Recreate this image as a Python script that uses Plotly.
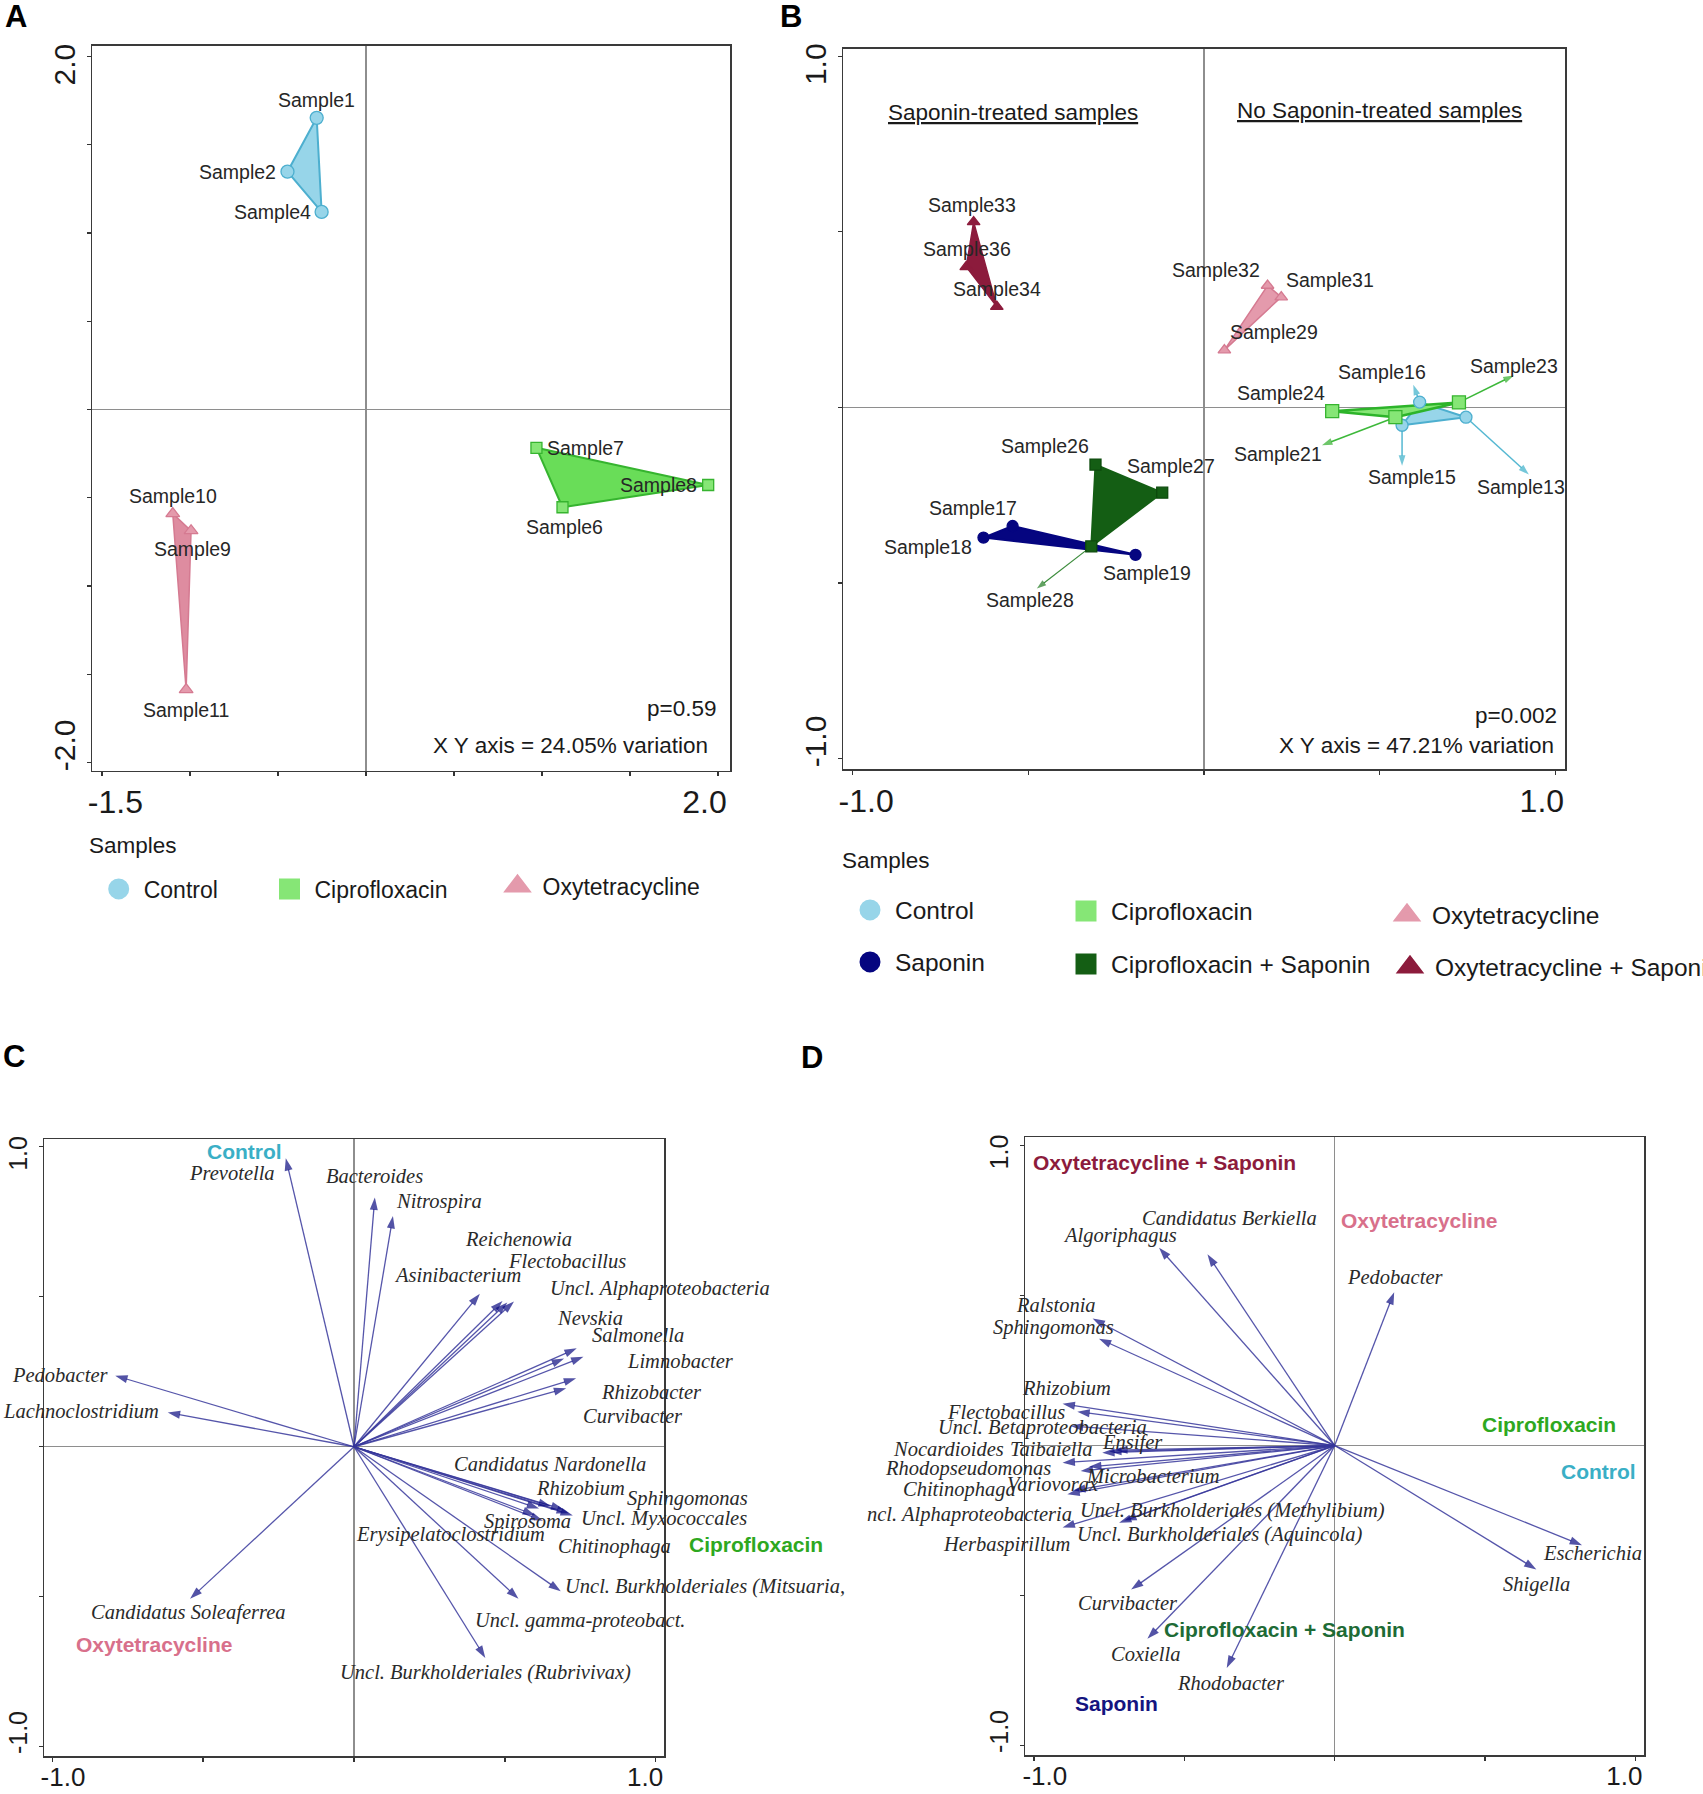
import plotly.graph_objects as go

W, H = 1703, 1794
SANS = "Arial, 'Liberation Sans', sans-serif"
SERIF = "'Times New Roman', 'Liberation Serif', serif"

# ---------------- colours ----------------
CTRL_FILL, CTRL_LINE = "#97D5E9", "#4DAFCF"
CIP_FILL, CIP_LINE = "#86E676", "#36B42F"
OXY_FILL, OXY_LINE = "#E49AAC", "#D57A91"
SAP = "#050580"
CIPSAP = "#145E14"
OXYSAP = "#8C1B3C"
ARROW_HEAD = "#0A0A80"
ARROW_LINE = "rgba(55,55,155,0.85)"

# ---------------- Panel A data ----------------
A_ctrl_names = ["Sample1", "Sample2", "Sample4"]
A_ctrl_x = [-0.280, -0.446, -0.252]
A_ctrl_y = [1.653, 1.348, 1.120]
A_cip_names = ["Sample6", "Sample7", "Sample8"]
A_cip_x = [1.117, 0.969, 1.945]
A_cip_y = [-0.554, -0.217, -0.428]
A_oxy_names = ["Sample9", "Sample10", "Sample11"]
A_oxy_x = [-0.994, -1.098, -1.022]
A_oxy_y = [-0.687, -0.590, -1.588]
A_p_text = "p=0.59"
A_var_text = "X Y axis = 24.05% variation"

# ---------------- Panel B data ----------------
B_ctrl_names = ["Sample13", "Sample15", "Sample16"]
B_ctrl_x = [0.746, 0.564, 0.614]
B_ctrl_y = [-0.028, -0.051, 0.015]
B_ctrl_lab_x = [0.925, 0.564, 0.596]
B_ctrl_lab_y = [-0.191, -0.166, 0.064]

B_sap_names = ["Sample17", "Sample18", "Sample19"]
B_sap_x = [-0.545, -0.628, -0.195]
B_sap_y = [-0.338, -0.371, -0.420]

B_cip_names = ["Sample21", "Sample23", "Sample24"]
B_cip_x = [0.545, 0.726, 0.365]
B_cip_y = [-0.028, 0.014, -0.011]
B_cip_lab_x = [0.336, 0.882, None]
B_cip_lab_y = [-0.108, 0.091, None]

B_cipsap_names = ["Sample26", "Sample27", "Sample28"]
B_cipsap_x = [-0.309, -0.119, -0.321]
B_cipsap_y = [-0.163, -0.243, -0.396]
B_cipsap_lab_x = [None, None, -0.476]
B_cipsap_lab_y = [None, None, -0.516]

B_oxy_names = ["Sample29", "Sample31", "Sample32"]
B_oxy_x = [0.058, 0.220, 0.181]
B_oxy_y = [0.163, 0.314, 0.347]

B_oxysap_names = ["Sample33", "Sample34", "Sample36"]
B_oxysap_x = [-0.656, -0.590, -0.677]
B_oxysap_y = [0.528, 0.287, 0.400]
B_p_text = "p=0.002"
B_var_text = "X Y axis = 47.21% variation"

# ---------------- Panel C data ----------------
C_taxa = ["Prevotella", "Bacteroides", "Nitrospira", "Reichenowia", "Flectobacillus",
          "Asinibacterium", "Uncl. Alphaproteobacteria", "Nevskia", "Salmonella",
          "Limnobacter", "Rhizobacter", "Curvibacter", "Pedobacter", "Lachnoclostridium",
          "Candidatus Nardonella", "Rhizobium", "Sphingomonas", "Uncl. Myxococcales",
          "Spirosoma", "Chitinophaga", "Erysipelatoclostridium",
          "Uncl. Burkholderiales (Mitsuaria,", "Uncl. gamma-proteobact.",
          "Uncl. Burkholderiales (Rubrivivax)", "Candidatus Soleaferrea"]
C_x = [-0.226, 0.069, 0.129, 0.492, 0.508, 0.417, 0.530, 0.696, 0.738, 0.760, 0.736,
       0.703, -0.791, -0.617, 0.613, 0.652, 0.694, 0.725, 0.626, 0.712, 0.600, 0.685,
       0.545, 0.435, -0.543]
C_y = [0.962, 0.831, 0.769, 0.486, 0.481, 0.510, 0.484, 0.294, 0.328, 0.300, 0.228,
       0.195, 0.237, 0.114, -0.206, -0.198, -0.209, -0.229, -0.247, -0.222, -0.228,
       -0.482, -0.507, -0.704, -0.507]
C_lab_x = [-0.403, 0.067, 0.281, 0.546, 0.705, 0.344, 1.015, 0.781, 0.942, 1.082, 0.987,
           0.923, -0.973, -0.903, 0.648, 0.750, 1.106, 1.027, 0.576, 0.863, 0.321, 1.164,
           0.750, 0.435, -0.548]
C_lab_y = [0.912, 0.903, 0.819, 0.694, 0.618, 0.571, 0.529, 0.428, 0.371, 0.287, 0.181,
           0.102, 0.240, 0.119, -0.059, -0.138, -0.171, -0.238, -0.250, -0.334, -0.292,
           -0.465, -0.578, -0.751, -0.554]
C_groups = ["Control", "Ciprofloxacin", "Oxytetracycline"]
C_group_x = [-0.362, 1.333, -0.663]
C_group_y = [0.986, -0.327, -0.658]

# ---------------- Panel D data ----------------
D_taxa = ["Algoriphagus", "Candidatus Berkiella", "Pedobacter", "Ralstonia", "Sphingomonas",
          "Rhizobium", "Flectobacillus", "Uncl. Betaproteobacteria", "Ensifer",
          "Nocardioides", "Taibaiella", "Rhodopseudomonas", "Microbacterium", "Variovorax",
          "Chitinophaga", "ncl. Alphaproteobacteria", "Uncl. Burkholderiales (Methylibium)",
          "Uncl. Burkholderiales (Aquincola)", "Herbaspirillum", "Curvibacter", "Coxiella",
          "Rhodobacter", "Escherichia", "Shigella"]
D_x = [-0.584, -0.423, 0.198, -0.805, -0.784, -0.905, -0.856, -0.878, -0.730, -0.773,
       -0.750, -0.905, -0.817, -0.845, -0.889, -0.870, -0.717, -0.700, -0.905, -0.677,
       -0.623, -0.359, 0.823, 0.671]
D_y = [0.659, 0.637, 0.511, 0.423, 0.356, 0.139, 0.113, 0.065, -0.015, -0.024, -0.020,
       -0.057, -0.071, -0.085, -0.162, -0.150, -0.257, -0.250, -0.273, -0.480, -0.644,
       -0.741, -0.332, -0.413]
D_lab_x = [-0.713, -0.350, 0.204, -0.927, -0.936, -0.891, -1.094, -0.972, -0.673, -1.285,
           -0.944, -1.218, -0.605, -0.938, -1.249, -1.215, -0.341, -0.382, -1.091, -0.686,
           -0.629, -0.345, 0.859, 0.671]
D_lab_y = [0.699, 0.758, 0.561, 0.468, 0.393, 0.193, 0.113, 0.059, 0.009, -0.012, -0.012,
           -0.076, -0.101, -0.129, -0.145, -0.229, -0.217, -0.295, -0.328, -0.526, -0.694,
           -0.792, -0.357, -0.462]
D_groups = ["Oxytetracycline + Saponin", "Oxytetracycline", "Ciprofloxacin", "Control",
            "Ciprofloxacin + Saponin", "Saponin"]
D_group_x = [-0.566, 0.280, 0.712, 0.877, -0.166, -0.725]
D_group_y = [0.944, 0.751, 0.071, -0.088, -0.613, -0.858]

GROUP_TEXT_COL = {"Control": "#3AAFC6", "Ciprofloxacin": "#2EA81F",
                  "Oxytetracycline": "#D8708B", "Oxytetracycline + Saponin": "#8C1B3C",
                  "Ciprofloxacin + Saponin": "#1E6B36", "Saponin": "#14147F"}

# ---------------- label placement (style: pixel offsets) ----------------
LBL = {
    "Sample1": (0, 18, "center"), "Sample2": (-9, 0, "right"), "Sample4": (-9, 0, "right"),
    "Sample6": (2, -20, "center"), "Sample7": (9, 0, "left"), "Sample8": (-9, 0, "right"),
    "Sample9": (1, -18, "center"), "Sample10": (0, 18, "center"), "Sample11": (0, -20, "center"),
    "Sample13": (-8, -13, "center"), "Sample15": (10, -11, "center"), "Sample16": (-31, 13, "center"),
    "Sample17": (-40, 18, "center"), "Sample18": (-55, -9, "center"), "Sample19": (11, -18, "center"),
    "Sample21": (-44, -9, "center"), "Sample23": (0, 9, "center"), "Sample24": (-51, 18, "center"),
    "Sample26": (-50, 19, "center"), "Sample27": (9, 27, "center"), "Sample28": (-7, -11, "center"),
    "Sample29": (50, 18, "center"), "Sample31": (49, 17, "center"), "Sample32": (-52, 16, "center"),
    "Sample33": (-2, 17, "center"), "Sample34": (0, 18, "center"), "Sample36": (1, 18, "center"),
}

fig = go.Figure()
annotations = []


def px_x(p):
    return p / W


def px_y(p):
    return 1 - p / H


def poly(xs, ys, fill, line, lw, xa, ya):
    return go.Scatter(x=list(xs) + [xs[0]], y=list(ys) + [ys[0]], mode="lines", fill="toself",
                      fillcolor=fill, line=dict(color=line, width=lw), xaxis=xa, yaxis=ya,
                      showlegend=False, hoverinfo="skip")


def pts(xs, ys, symbol, size, fill, line, xa, ya):
    return go.Scatter(x=xs, y=ys, mode="markers", xaxis=xa, yaxis=ya, showlegend=False,
                      marker=dict(symbol=symbol, size=size, color=fill,
                                  line=dict(color=line, width=1.3)), hoverinfo="skip",
                      cliponaxis=False)


def arrows(x0, y0, x1, y1, head, line, lw, size, xa, ya):
    xs, ys, sz = [], [], []
    for a, b, c, d in zip(x0, y0, x1, y1):
        if c is None:
            continue
        xs += [a, c, None]
        ys += [b, d, None]
        sz += [0, size, 0]
    return go.Scatter(x=xs, y=ys, mode="lines+markers", xaxis=xa, yaxis=ya,
                      line=dict(color=line, width=lw),
                      marker=dict(symbol="arrow", size=sz, color=head, angleref="previous",
                                  line=dict(width=0)),
                      showlegend=False, hoverinfo="skip", cliponaxis=False)


def biplot_label(hx, hy, lx, ly, xa, ya, text, font):
    # text sits at (lx, ly) on the axes; an invisible connector to an in-range
    # anchor (hx, hy) keeps labels that lie outside the axis range drawn
    return dict(x=hx, y=hy, xref=xa, yref=ya, ax=lx, ay=ly, axref=xa, ayref=ya,
                showarrow=True, arrowcolor="rgba(0,0,0,0)", arrowwidth=0.1, arrowhead=0,
                text=text, xanchor="center", yanchor="middle", font=font)


def sample_labels(names, xs, ys, xa, ya, lx=None, ly=None):
    for i, n in enumerate(names):
        x, y = xs[i], ys[i]
        if lx is not None and lx[i] is not None:
            x, y = lx[i], ly[i]
        dx_, dy_, anc = LBL[n]
        annotations.append(dict(x=x, y=y, xref=xa, yref=ya, text=n, showarrow=False,
                                xshift=dx_, yshift=dy_, xanchor=anc, yanchor="middle",
                                font=dict(family=SANS, size=19.5, color="#262626")))


# ---------------- Panel A ----------------
fig.add_trace(poly(A_ctrl_x, A_ctrl_y, CTRL_FILL, CTRL_LINE, 2, "x", "y"))
fig.add_trace(poly(A_cip_x, A_cip_y, "#69DD58", CIP_LINE, 2, "x", "y"))
fig.add_trace(poly(A_oxy_x, A_oxy_y, "#DE8CA0", OXY_LINE, 1.5, "x", "y"))
fig.add_trace(pts(A_ctrl_x, A_ctrl_y, "circle", 13, CTRL_FILL, CTRL_LINE, "x", "y"))
fig.add_trace(pts(A_cip_x, A_cip_y, "square", 11, CIP_FILL, CIP_LINE, "x", "y"))
fig.add_trace(pts(A_oxy_x, A_oxy_y, "triangle-up", 12, OXY_FILL, OXY_LINE, "x", "y"))
sample_labels(A_ctrl_names, A_ctrl_x, A_ctrl_y, "x", "y")
sample_labels(A_cip_names, A_cip_x, A_cip_y, "x", "y")
sample_labels(A_oxy_names, A_oxy_x, A_oxy_y, "x", "y")

# ---------------- Panel B ----------------
fig.add_trace(poly(B_oxysap_x, B_oxysap_y, OXYSAP, OXYSAP, 1.5, "x2", "y2"))
fig.add_trace(poly(B_oxy_x, B_oxy_y, OXY_FILL, OXY_LINE, 1.5, "x2", "y2"))
fig.add_trace(poly(B_sap_x, B_sap_y, SAP, SAP, 2, "x2", "y2"))
fig.add_trace(poly(B_cipsap_x, B_cipsap_y, CIPSAP, CIPSAP, 2, "x2", "y2"))
fig.add_trace(poly(B_ctrl_x, B_ctrl_y, CTRL_FILL, CTRL_LINE, 2, "x2", "y2"))
fig.add_trace(poly(B_cip_x, B_cip_y, CIP_FILL, "#2DB42A", 2.5, "x2", "y2"))
fig.add_trace(arrows(B_ctrl_x, B_ctrl_y, B_ctrl_lab_x, B_ctrl_lab_y, "#3BAFC9", "#55B8D2", 1.5, 11, "x2", "y2"))
fig.add_trace(arrows(B_cip_x, B_cip_y, B_cip_lab_x, B_cip_lab_y, "#2FAE2A", "#3DB83A", 1.5, 11, "x2", "y2"))
fig.add_trace(arrows(B_cipsap_x, B_cipsap_y, B_cipsap_lab_x, B_cipsap_lab_y, "#1F7A1F", "#3C8C3C", 1.2, 10, "x2", "y2"))
fig.add_trace(pts(B_oxysap_x, B_oxysap_y, "triangle-up", 11, OXYSAP, OXYSAP, "x2", "y2"))
fig.add_trace(pts(B_oxy_x, B_oxy_y, "triangle-up", 11, OXY_FILL, OXY_LINE, "x2", "y2"))
fig.add_trace(pts(B_sap_x, B_sap_y, "circle", 11, SAP, SAP, "x2", "y2"))
fig.add_trace(pts(B_cipsap_x, B_cipsap_y, "square", 11, CIPSAP, "#0C4A0C", "x2", "y2"))
fig.add_trace(pts(B_ctrl_x, B_ctrl_y, "circle", 12, CTRL_FILL, CTRL_LINE, "x2", "y2"))
fig.add_trace(pts(B_cip_x, B_cip_y, "square", 13, CIP_FILL, CIP_LINE, "x2", "y2"))
sample_labels(B_ctrl_names, B_ctrl_x, B_ctrl_y, "x2", "y2", B_ctrl_lab_x, B_ctrl_lab_y)
sample_labels(B_sap_names, B_sap_x, B_sap_y, "x2", "y2")
sample_labels(B_cip_names, B_cip_x, B_cip_y, "x2", "y2", B_cip_lab_x, B_cip_lab_y)
sample_labels(B_cipsap_names, B_cipsap_x, B_cipsap_y, "x2", "y2", B_cipsap_lab_x, B_cipsap_lab_y)
sample_labels(B_oxy_names, B_oxy_x, B_oxy_y, "x2", "y2")
sample_labels(B_oxysap_names, B_oxysap_x, B_oxysap_y, "x2", "y2")

# ---------------- Panels C and D (biplots) ----------------
for taxa, tx, ty, lx, ly, groups, gx, gy, xa, ya in [
        (C_taxa, C_x, C_y, C_lab_x, C_lab_y, C_groups, C_group_x, C_group_y, "x3", "y3"),
        (D_taxa, D_x, D_y, D_lab_x, D_lab_y, D_groups, D_group_x, D_group_y, "x4", "y4")]:
    fig.add_trace(arrows([0] * len(tx), [0] * len(ty), tx, ty, ARROW_HEAD, ARROW_LINE, 1.3, 13, xa, ya))
    for t, hx, hy, x, y in zip(taxa, tx, ty, lx, ly):
        annotations.append(biplot_label(hx, hy, x, y, xa, ya, "<i>%s</i>" % t,
                                        dict(family=SERIF, size=20.5, color="#2a2a2a")))
    for g, x, y in zip(groups, gx, gy):
        annotations.append(biplot_label(0, 0, x, y, xa, ya, "<b>%s</b>" % g,
                                        dict(family=SANS, size=21, color=GROUP_TEXT_COL[g])))

# ---------------- legends ----------------
LEG_ITEMS = [
    ("legend", "Control", "circle", CTRL_FILL, 115.7, 889, 23),
    ("legend2", "Ciprofloxacin", "square", CIP_FILL, 286.5, 889, 23),
    ("legend3", "Oxytetracycline", "triangle-up", OXY_FILL, 514.5, 886, 23),
    ("legend4", "Control", "circle", CTRL_FILL, 867, 910, 24.5),
    ("legend5", "Ciprofloxacin", "square", CIP_FILL, 1083, 911, 24.5),
    ("legend6", "Oxytetracycline", "triangle-up", OXY_FILL, 1404, 915, 24.5),
    ("legend7", "Saponin", "circle", SAP, 867, 962, 24.5),
    ("legend8", "Ciprofloxacin + Saponin", "square", CIPSAP, 1083, 964, 24.5),
    ("legend9", "Oxytetracycline + Saponin", "triangle-up", OXYSAP, 1407, 967, 24.5),
]
legend_layout = {}
for lg, name, sym, fc, xc, yc, fs in LEG_ITEMS:
    fig.add_trace(go.Scatter(x=[None], y=[None], mode="markers", name=name, legend=lg,
                             marker=dict(symbol=sym, size=16, color=fc, line=dict(color=fc, width=5))))
    legend_layout[lg] = dict(x=px_x(xc - 22), y=px_y(yc), xanchor="left", yanchor="middle",
                             bgcolor="rgba(0,0,0,0)", borderwidth=0, itemsizing="trace",
                             itemwidth=40,
                             font=dict(family=SANS, size=fs, color="#1a1a1a"))

# ---------------- axes ----------------
NB = "\u00a0\u00a0\u00a0"


def ax(domain, rng, tv, tt, anchor, vertical, fsize, standoff):
    d = dict(domain=domain, range=rng, anchor=anchor, tickvals=tv, ticktext=tt,
             ticks="outside", ticklen=4, tickwidth=1.3, tickcolor="#333333",
             showline=True, linecolor="#3a3a3a", linewidth=1.5, mirror=True,
             showgrid=False, zeroline=True, zerolinecolor="#8e8e8e", zerolinewidth=1.3,
             tickfont=dict(family=SANS, size=fsize, color="#1a1a1a"), fixedrange=True,
             ticklabelstandoff=standoff)
    if vertical:
        d["tickangle"] = -90
    return d


def dx(l, r):
    return [px_x(l), px_x(r)]


def dy(t, b):
    return [px_y(b), px_y(t)]


A_xt = [-1.5, -1.0, -0.5, 0, 0.5, 1.0, 1.5, 2.0]
A_xl = [NB + "-1.5", "", "", "", "", "", "", "2.0" + NB]
A_yt = [-2.0, -1.5, -1.0, -0.5, 0, 0.5, 1.0, 1.5, 2.0]
A_yl = [NB + "-2.0", "", "", "", "", "", "", "", "2.0" + NB]
U_t = [-1.0, -0.5, 0, 0.5, 1.0]
U_l = [NB + "-1.0", "", "", "", "1.0" + NB]

# in-panel texts
for xr, txt, xf, yf in [("x", A_p_text, 0.981, 0.085), ("x", A_var_text, 0.969, 0.034),
                         ("x2", B_p_text, 0.991, 0.074), ("x2", B_var_text, 0.987, 0.032)]:
    yr = xr.replace("x", "y")
    annotations.append(dict(x=xf, y=yf, xref=xr + " domain", yref=yr + " domain", text=txt,
                            showarrow=False, xanchor="right", yanchor="middle",
                            font=dict(family=SANS, size=22.5, color="#1a1a1a")))
for txt, xf, yf in [("<u>Saponin-treated samples</u>", 0.236, 0.911),
                    ("<u>No Saponin-treated samples</u>", 0.743, 0.914)]:
    annotations.append(dict(x=xf, y=yf, xref="x2 domain", yref="y2 domain", text=txt,
                            showarrow=False, xanchor="center", yanchor="middle",
                            font=dict(family=SANS, size=22.5, color="#1a1a1a")))
# legend headings
for xl, yl in [(87, 845), (840, 860)]:
    annotations.append(dict(x=px_x(xl), y=px_y(yl), xref="paper", yref="paper", text="Samples",
                            showarrow=False, xanchor="left", yanchor="middle",
                            font=dict(family=SANS, size=22.5, color="#1a1a1a")))
# panel letters
for lt, xl, yl in [("A", 16, 17), ("B", 791, 16), ("C", 14, 1056), ("D", 812, 1057)]:
    annotations.append(dict(x=px_x(xl), y=px_y(yl), xref="paper", yref="paper",
                            text="<b>%s</b>" % lt, showarrow=False, xanchor="center",
                            yanchor="middle", font=dict(family=SANS, size=31, color="#000")))

layout = dict(
    width=W, height=H, margin=dict(l=0, r=0, t=0, b=0, autoexpand=False),
    paper_bgcolor="white", plot_bgcolor="white", hovermode=False,
    xaxis=ax(dx(92, 730), [-1.557, 2.069], A_xt, A_xl, "y", False, 32, -1),
    yaxis=ax(dy(45.5, 770.5), [-2.046, 2.063], A_yt, A_yl, "x", True, 30, 0),
    xaxis2=ax(dx(843, 1565), [-1.028, 1.028], U_t, U_l, "y2", False, 32, -1),
    yaxis2=ax(dy(48.5, 769), [-1.03, 1.022], U_t, U_l, "x2", True, 30, 0),
    xaxis3=ax(dx(44, 664), [-1.027, 1.027], U_t, U_l, "y3", False, 26, -7),
    yaxis3=ax(dy(1139, 1756), [-1.031, 1.026], U_t, U_l, "x3", True, 25, 2),
    xaxis4=ax(dx(1025, 1644), [-1.03, 1.029], U_t, U_l, "y4", False, 26, -7),
    yaxis4=ax(dy(1137, 1755), [-1.031, 1.028], U_t, U_l, "x4", True, 25, 2),
    annotations=annotations,
)
layout.update(legend_layout)
fig.update_layout(**layout)
# the figure is exactly the window size, so drop the page's default body margin
fig.write_html("out.html", config={"displayModeBar": False, "staticPlot": True},
               post_script="document.body.style.margin='0px';")
